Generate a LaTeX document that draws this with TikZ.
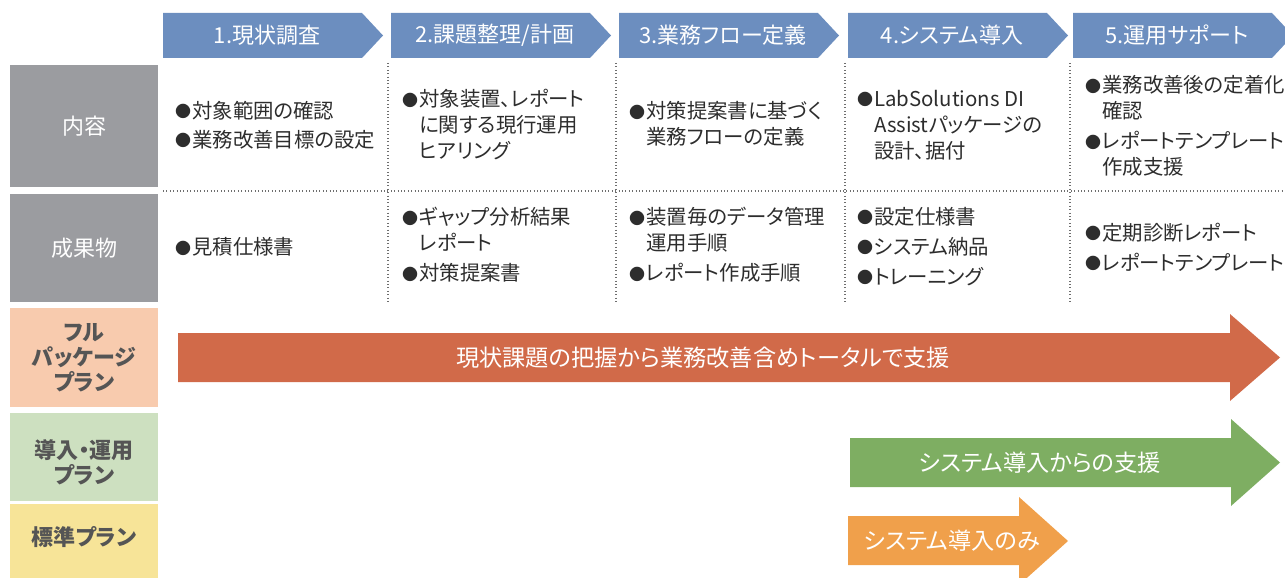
\documentclass[tikz,border=0pt]{standalone}
\usepackage{fontspec}
\setmainfont{Noto Sans CJK JP}[RawFeature=+palt]
\definecolor{hdr}{RGB}{108,142,191}
\definecolor{lblgray}{RGB}{155,156,160}
\definecolor{peach}{RGB}{248,203,174}
\definecolor{lgreen}{RGB}{205,224,192}
\definecolor{lyellow}{RGB}{247,228,152}
\definecolor{redarr}{RGB}{209,106,73}
\definecolor{grnarr}{RGB}{126,174,98}
\definecolor{orarr}{RGB}{240,160,75}
\definecolor{txt}{RGB}{45,45,45}
\definecolor{plantxt}{RGB}{85,85,85}
\definecolor{dotc}{RGB}{110,110,110}
\newcommand\bl{\makebox[17pt][l]{\raisebox{0.5pt}{\fontsize{16}{16}\selectfont ●}}}
\newcommand\ind{\hspace*{17pt}}
\begin{document}
\begin{tikzpicture}[x=1pt,y=-1pt,
  every node/.style={inner sep=0pt},
  hdrtext/.style={text=white, font=\fontsize{22}{26}\selectfont},
  cell/.style={anchor=west, align=left, text=txt, font=\fontsize{20.4}{26}\selectfont},
  rowlbl/.style={text=white, font=\fontsize{22}{26}\selectfont, minimum width=148pt},
  plan/.style={text=plantxt, font=\bfseries\fontsize{22}{25}\selectfont, align=center, minimum width=148pt},
  arrtext/.style={text=white, font=\fontsize{23.2}{26}\selectfont},
  dotline/.style={dotc, line width=1.1pt, dash pattern=on 0.8pt off 2.6pt}]
\useasboundingbox (0,0) rectangle (1285,578);
\clip (0,0) rectangle (1285,578);
% header chevrons
\foreach \s/\t [count=\i] in {163/{1.現状調査}, 391/{2.課題整理/計画}, 619/{3.業務フロー定義}, 848/{4.システム導入}, 1073/{5.運用サポート}}{
  \fill[hdr] (\s,13) -- ({\s+199},13) -- ({\s+220},35.5) -- ({\s+199},58) -- (\s,58) -- cycle;
  \node[hdrtext] (h\i) at ({\s+104},35) {\t};
}
% row labels
\node[rowlbl, fill=lblgray, minimum height=122pt] (lc) at (84,126) {内容};
\node[rowlbl, fill=lblgray, minimum height=108pt] (lr) at (84,248) {成果物};
\node[plan, fill=peach, minimum height=99pt] (pf) at (84,357.5) {フル\\パッケージ\\プラン};
\node[plan, fill=lgreen, minimum height=88pt] (pi) at (84,457) {};
\node[plan] (pit) at (84,462) {導入・運用\\プラン};
\node[plan, fill=lyellow, minimum height=74pt] (ps) at (84,541) {};
\node[plan] (pst) at (84,537) {標準プラン};
% dotted grid
\draw[dotline] (163,191) -- (1285,191);
\foreach \x in {388,616,845,1070}{ \draw[dotline] (\x,63) -- (\x,303); }
% content row
\node[cell] (c1) at (175,125) {\bl 対象範囲の確認\\[3pt]\bl 業務改善目標の設定};
\node[cell] (c2) at (402,125) {\bl 対象装置、レポート\\\ind に関する現行運用\\\ind ヒアリング};
\node[cell] (c3) at (629,124) {\bl 対策提案書に基づく\\\ind 業務フローの定義};
\node[cell] (c4) at (857,125) {\bl LabSolutions DI\\\ind Assistパッケージの\\\ind 設計、据付};
\node[cell] (c5) at (1085,126) {\bl 業務改善後の定着化\\\ind 確認\\[4pt]\bl レポートテンプレート\\\ind 作成支援};
% deliverables row
\node[cell] (d1) at (175,247) {\bl 見積仕様書};
\node[cell] (d2) at (402,245) {\bl ギャップ分析結果\\\ind レポート\\[4pt]\bl 対策提案書};
\node[cell] (d3) at (629,245) {\bl 装置毎のデータ管理\\\ind 運用手順\\[4pt]\bl レポート作成手順};
\node[cell] (d4) at (857,246.5) {\bl 設定仕様書\\[4pt]\bl システム納品\\[4pt]\bl トレーニング};
\node[cell] (d5) at (1085,247) {\bl 定期診断レポート\\[4pt]\bl レポートテンプレート};
% plan arrows
\fill[redarr] (178,333) -- (1230,333) -- (1230,314) -- (1280,357.5) -- (1230,401) -- (1230,382) -- (178,382) -- cycle;
\node[arrtext] (a1) at (703,357.5) {現状課題の把握から業務改善含めトータルで支援};
\fill[grnarr] (850,438) -- (1231,438) -- (1231,419) -- (1280,462.5) -- (1231,506) -- (1231,487) -- (850,487) -- cycle;
\node[arrtext] (a2) at (1040,462.5) {システム導入からの支援};
\fill[orarr] (848,516) -- (1019,516) -- (1019,497) -- (1068,541) -- (1019,585) -- (1019,565) -- (848,565) -- cycle;
\node[arrtext] (a3) at (952,541) {システム導入のみ};
\end{tikzpicture}
\end{document}
